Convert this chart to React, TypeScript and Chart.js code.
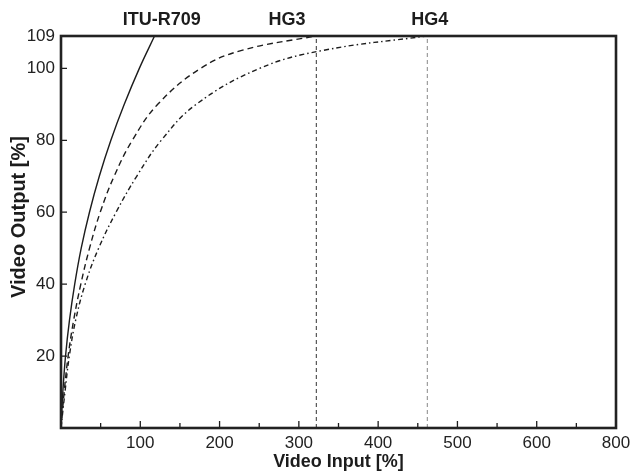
import React, { useEffect, useRef } from "react";
import { Chart, registerables } from "chart.js";

Chart.register(...registerables);

// ITU-R709 curve (solid)
const ituInput = [0, 2.3, 5.7, 10.7, 17.3, 25.5, 35.9, 48.3, 62.9, 79.8, 98.8, 118];
const ituOutput = [0, 10, 20, 30, 40, 50, 60, 70, 80, 90, 100, 109];

// HG3 curve (dashed)
const hg3Input = [0, 4, 9, 16, 25, 36, 49.5, 67, 90, 122, 176, 228, 321];
const hg3Output = [0, 10, 20, 30, 40, 50, 60, 70, 80, 90, 100, 105, 109];

// HG4 curve (dash-dot)
const hg4Input = [0, 5, 10.5, 18.5, 30.5, 47.5, 69.5, 95.5, 126.5, 170.5, 250.5, 330.5, 461];
const hg4Output = [0, 10, 20, 30, 40, 50, 60, 70, 80, 90, 100, 105, 109];

// knee limits (vertical dashed markers)
const hg3Limit = 322;
const hg4Limit = 462;
const outputMax = 109;

// axis ticks
const xTickValues = [100, 200, 300, 400, 500, 600, 700];
const xTickLabels = ["100", "200", "300", "400", "500", "600", "800"];
const xMinorTicks = [50, 100, 150, 200, 250, 300, 350, 400, 450, 500, 550, 600, 650];
const yTickValues = [20, 40, 60, 80, 100, 109];
const yTickLabels = ["20", "40", "60", "80", "100", "109"];

// curve labels above the plot
const curveNames = ["ITU-R709", "HG3", "HG4"];
const curveNameAt = [127, 285, 465];

const FONT = "'Liberation Sans', Arial, Helvetica, sans-serif";
const INK = "#1c1c1c";

const toPts = (xs: number[], ys: number[]) => xs.map((x, i) => ({ x, y: ys[i] }));

const decorPlugin = {
  id: "decor",
  afterDatasetsDraw(chart: any) {
    const { ctx, chartArea } = chart;
    const xs = chart.scales.x;
    const ys = chart.scales.y;
    ctx.save();
    // inward tick marks
    ctx.strokeStyle = INK;
    ctx.lineWidth = 1.3;
    ctx.beginPath();
    xMinorTicks.forEach((v) => {
      const px = xs.getPixelForValue(v);
      const len = v % 100 === 0 ? 7 : 5;
      ctx.moveTo(px, chartArea.bottom);
      ctx.lineTo(px, chartArea.bottom - len);
    });
    yTickValues.forEach((v) => {
      if (v >= outputMax) return;
      const py = ys.getPixelForValue(v);
      ctx.moveTo(chartArea.left, py);
      ctx.lineTo(chartArea.left + 6, py);
    });
    ctx.stroke();
    // frame
    ctx.lineWidth = 2.6;
    ctx.strokeStyle = "#222";
    ctx.strokeRect(
      chartArea.left,
      chartArea.top,
      chartArea.right - chartArea.left,
      chartArea.bottom - chartArea.top
    );
    // curve names
    ctx.fillStyle = INK;
    ctx.font = `bold 18px ${FONT}`;
    ctx.textAlign = "center";
    ctx.textBaseline = "middle";
    curveNames.forEach((n, i) => {
      ctx.fillText(n, xs.getPixelForValue(curveNameAt[i]), 20.5);
    });
    // y title
    ctx.font = `bold 20px ${FONT}`;
    ctx.translate(19, 217);
    ctx.rotate(-Math.PI / 2);
    ctx.fillText("Video Output [%]", 0, 0);
    ctx.restore();
  },
};

export default function App() {
  const ref = useRef<HTMLCanvasElement | null>(null);
  useEffect(() => {
    if (!ref.current) return;
    const curve = { borderColor: INK, borderWidth: 1.4, pointRadius: 0, tension: 0.4 };
    const chart = new Chart(ref.current, {
      type: "line",
      data: {
        datasets: [
          { label: "ITU-R709", data: toPts(ituInput, ituOutput), ...curve },
          { label: "HG3", data: toPts(hg3Input, hg3Output), ...curve, borderDash: [6, 4] },
          { label: "HG4", data: toPts(hg4Input, hg4Output), ...curve, borderDash: [5, 3, 1.5, 3] },
          {
            label: "HG3 limit",
            data: [
              { x: hg3Limit, y: 0 },
              { x: hg3Limit, y: outputMax },
            ],
            borderColor: "#333",
            borderWidth: 1,
            borderDash: [4, 3],
            pointRadius: 0,
          },
          {
            label: "HG4 limit",
            data: [
              { x: hg4Limit, y: 0 },
              { x: hg4Limit, y: outputMax },
            ],
            borderColor: "#888",
            borderWidth: 1,
            borderDash: [4, 3],
            pointRadius: 0,
          },
        ],
      },
      options: {
        responsive: false,
        animation: false,
        layout: { padding: { top: 36, right: 16, left: 0, bottom: 0 } },
        plugins: { legend: { display: false }, tooltip: { enabled: false } },
        scales: {
          x: {
            type: "linear",
            min: 0,
            max: 700,
            afterFit: (s: any) => {
              s.height = 43;
              s.paddingLeft = 0;
              s.paddingRight = 0;
            },
            afterBuildTicks: (s: any) => {
              s.ticks = xTickValues.map((v) => ({ value: v }));
            },
            grid: { display: false, drawTicks: false },
            border: { display: false },
            ticks: {
              autoSkip: false,
              maxRotation: 0,
              padding: 5,
              color: "#222",
              font: { family: FONT, size: 17 },
              callback: (v: any) => {
                const i = xTickValues.indexOf(Number(v));
                return i >= 0 ? xTickLabels[i] : "";
              },
            },
            title: {
              display: true,
              text: "Video Input [%]",
              color: INK,
              font: { family: FONT, size: 18, weight: "bold", lineHeight: 1 },
              padding: { top: 0, bottom: 0 },
            },
          },
          y: {
            type: "linear",
            min: 0,
            max: outputMax,
            afterFit: (s: any) => {
              s.width = 61;
              s.paddingTop = 0;
              s.paddingBottom = 0;
            },
            afterBuildTicks: (s: any) => {
              s.ticks = yTickValues.map((v) => ({ value: v }));
            },
            grid: { display: false, drawTicks: false },
            border: { display: false },
            ticks: {
              autoSkip: false,
              padding: 6,
              color: "#222",
              font: { family: FONT, size: 17 },
              callback: (v: any) => {
                const i = yTickValues.indexOf(Number(v));
                return i >= 0 ? yTickLabels[i] : "";
              },
            },
          },
        },
      },
      plugins: [decorPlugin],
    } as any);
    return () => chart.destroy();
  }, []);
  return (
    <div style={{ position: "fixed", left: 0, top: 0, width: 632, height: 471, background: "#fff" }}>
      <canvas ref={ref} width={632} height={471} style={{ display: "block" }} />
    </div>
  );
}
